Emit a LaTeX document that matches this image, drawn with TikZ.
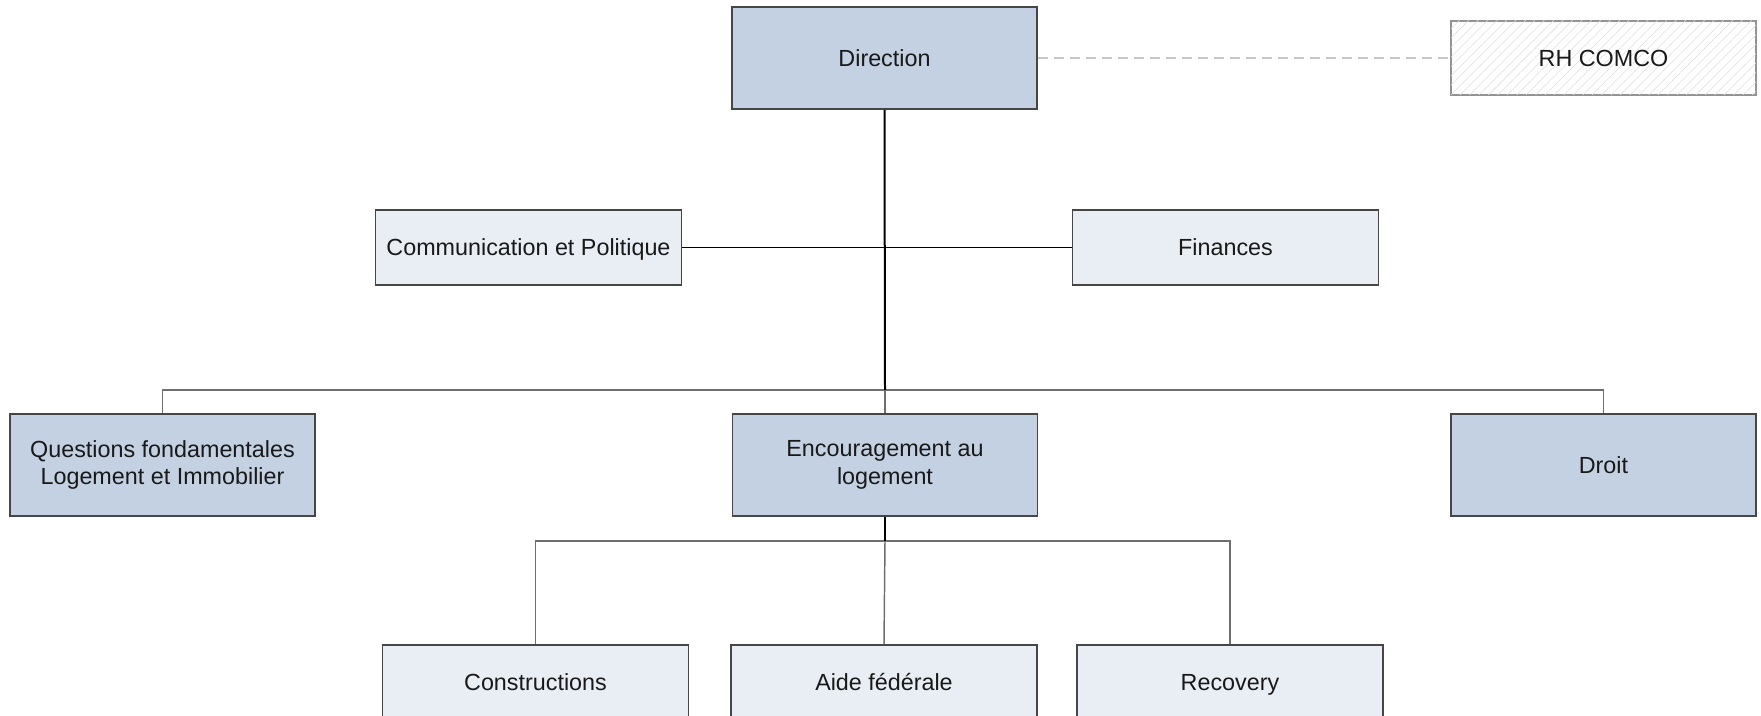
\documentclass[tikz,border=0pt]{standalone}
\usepackage{fontspec}
\setmainfont{Liberation Sans}
\usetikzlibrary{patterns.meta}
\definecolor{darkfill}{RGB}{195,209,227}
\definecolor{lightfill}{RGB}{233,238,245}
\definecolor{boxline}{RGB}{70,70,70}
\definecolor{busline}{RGB}{110,110,110}
\definecolor{txt}{RGB}{25,25,25}
\tikzset{
  unit/.style={draw=boxline, line width=1.2pt, inner sep=0pt, align=center,
    text=txt, font=\fontsize{17.5pt}{20.5pt}\selectfont},
  oneline/.style={text height=12.5pt, text depth=0pt},
  darkbox/.style={unit, fill=darkfill, minimum width=228.75pt, minimum height=76.5pt},
  lightbox/.style={unit, oneline, fill=lightfill, minimum width=229.5pt, minimum height=56.25pt},
  hatchbox/.style={unit, oneline, draw=gray!85, fill=white,
    postaction={pattern={Lines[angle=45,distance=5pt,line width=0.4pt]}, pattern color=gray!25},
    minimum width=228.75pt, minimum height=55.5pt},
  trunk/.style={draw=black, line width=1.5pt},
  hline/.style={draw=black, line width=1.1pt},
  busl/.style={draw=busline, line width=1.1pt},
  dashl/.style={draw=gray!45, line width=0.9pt, dash pattern=on 7.5pt off 4.5pt}
}
\begin{document}
\begin{tikzpicture}[x=0.75pt,y=-0.75pt]
\useasboundingbox (0,0) rectangle (1761,716);
\clip (0,0) rectangle (1761,716);
% nodes
\node[darkbox, oneline] (dir) at (884.5,58) {Direction};
\node[hatchbox] (rh) at (1603.5,58) {RH COMCO};
\node[lightbox] (comm) at (528.5,247.5) {Communication et Politique};
\node[lightbox] (fin) at (1225.5,247.5) {Finances};
\node[darkbox] (qf) at (162.5,465) {Questions fondamentales\\Logement et Immobilier};
\node[darkbox] (enc) at (885,465) {Encouragement au\\logement};
\node[darkbox, oneline] (droit) at (1603.5,465) {Droit};
\node[lightbox] (cons) at (535.5,682.5) {Constructions};
\node[lightbox] (aide) at (884,682.5) {Aide fédérale};
\node[lightbox] (rec) at (1230,682.5) {Recovery};
% coordinates for buses
\coordinate (b1) at (885,390);
\coordinate (b2) at (885,541);
\coordinate (c1) at (885,247.5);
% connectors
\draw[dashl] (dir.east) -- (rh.west);
\draw[busl] (qf.north) |- (b1) -| (droit.north);
\draw[busl] (b1) -- (enc.north);
\draw[trunk] (dir.south) -- (b1);
\draw[hline] (comm.east) -- (c1) -- (fin.west);
\draw[busl] (cons.north) |- (b2) -| (rec.north);
\draw[busl] (b2) -- (aide.north);
\draw[trunk] (enc.south) -- (b2);
\end{tikzpicture}
\end{document}
